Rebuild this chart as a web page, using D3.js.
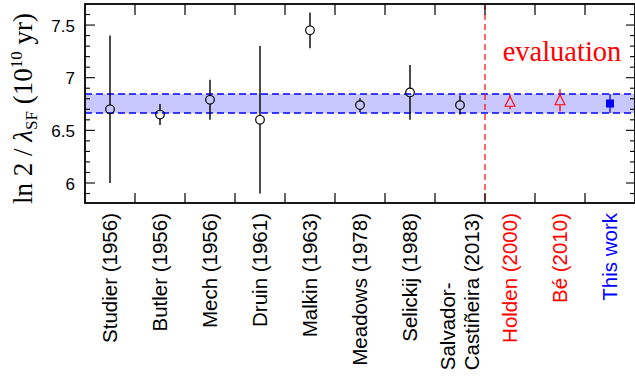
<!DOCTYPE html>
<html>
<head>
<meta charset="utf-8">
<script src="https://cdn.jsdelivr.net/npm/d3@7"></script>
<style>
html,body{margin:0;padding:0;background:#fff;}
svg{display:block;}
</style>
</head>
<body>
<script>
const labels = ["Studier (1956)","Butler (1956)","Mech (1956)","Druin (1961)","Malkin (1963)","Meadows (1978)","Selickij (1988)","Salvador-|Castiñeira (2013)","Holden (2000)","Bé (2010)","This work"];
const values = [6.70,6.65,6.79,6.60,7.45,6.74,6.86,6.74,6.77,6.785,6.755];
const errors = [0.70,0.10,0.19,0.70,0.17,0.065,0.26,0.09,0.07,0.105,0.09];
const markers = ["circle","circle","circle","circle","circle","circle","circle","circle","triangle","triangle","square"];
const groups = ["exp","exp","exp","exp","exp","exp","exp","exp","eval","eval","this"];
const bandCenter = 6.755, bandHalf = 0.09;
const yTicks = [6, 6.5, 7, 7.5];
const yTickLabels = ["6","6.5","7","7.5"];

const colors = {exp:"#000000", eval:"#ff0000", this:"#0000ff"};
const W = 635, H = 379;
const L = 85, R = 635, T = 4, B = 203;

const svg = d3.select("body").append("svg").attr("width", W).attr("height", H);
const x = d3.scaleLinear().domain([-0.5, labels.length - 0.5]).range([L, R]);
const y = d3.scaleLinear().domain([5.81, 7.70]).range([B, T]);

// band
svg.append("rect").attr("x", L).attr("width", R - L)
  .attr("y", y(bandCenter + bandHalf)).attr("height", y(bandCenter - bandHalf) - y(bandCenter + bandHalf))
  .attr("fill", "#c8c8ff");
[bandCenter + bandHalf, bandCenter - bandHalf].forEach(v => {
  svg.append("line").attr("x1", L).attr("x2", R).attr("y1", y(v)).attr("y2", y(v))
    .attr("stroke", "#0000ff").attr("stroke-width", 1.3).attr("stroke-dasharray", "7,4");
});

// red dashed separator
svg.append("line").attr("x1", x(7.5)).attr("x2", x(7.5)).attr("y1", T).attr("y2", B)
  .attr("stroke", "#ff0000").attr("stroke-width", 1.2).attr("stroke-dasharray", "6,4");

// frame
svg.append("rect").attr("x", L).attr("y", T).attr("width", R - L).attr("height", B - T)
  .attr("fill", "none").attr("stroke", "#000").attr("stroke-width", 1.8);

// x ticks (category boundaries) top and bottom
const xb = d3.range(0.5, labels.length - 0.5, 1);
xb.forEach(b => {
  svg.append("line").attr("x1", x(b)).attr("x2", x(b)).attr("y1", T).attr("y2", T + 11).attr("stroke", "#000").attr("stroke-width", 1.2);
  svg.append("line").attr("x1", x(b)).attr("x2", x(b)).attr("y1", B).attr("y2", B - 10).attr("stroke", "#000").attr("stroke-width", 1.2);
});

// y axis ticks left and right
const yAxisL = d3.axisLeft(y).tickValues(yTicks).tickSize(0).tickFormat((d, i) => yTickLabels[i]);
const gL = svg.append("g").attr("transform", `translate(${L},0)`).call(yAxisL);
gL.select(".domain").remove();
gL.selectAll("text").attr("x", -10).attr("dy", "0.36em")
  .style("font-family", "'Liberation Sans', Arial, sans-serif").style("font-size", "17px").attr("fill", "#000");
const minor = d3.range(5.9, 7.7, 0.1).map(v => Math.round(v * 10) / 10);
minor.forEach(v => {
  const major = Math.abs(v * 2 - Math.round(v * 2)) < 1e-6;
  svg.append("line").attr("x1", L).attr("x2", L + (major ? 10 : 5)).attr("y1", y(v)).attr("y2", y(v)).attr("stroke", "#000").attr("stroke-width", 1.1);
  svg.append("line").attr("x1", R).attr("x2", R - (major ? 9 : 5)).attr("y1", y(v)).attr("y2", y(v)).attr("stroke", "#000").attr("stroke-width", 1.1);
});

// data
const ms = {circle: 4.3, triangle: 5.5, square: 4};
values.forEach((v, i) => {
  const c = colors[groups[i]];
  const cx = x(i), cy = y(v);
  const m = markers[i];
  const gap = m === "square" ? 0 : (m === "triangle" ? 4.5 : ms.circle);
  const top = y(v + errors[i]), bot = y(v - errors[i]);
  const sw = groups[i] === "exp" ? 1.4 : 1.3;
  if (cy - gap > top) svg.append("line").attr("x1", cx).attr("x2", cx).attr("y1", top).attr("y2", cy - gap).attr("stroke", c).attr("stroke-width", sw);
  if (cy + gap < bot) svg.append("line").attr("x1", cx).attr("x2", cx).attr("y1", cy + gap).attr("y2", bot).attr("stroke", c).attr("stroke-width", sw);
  if (m === "circle") {
    svg.append("circle").attr("cx", cx).attr("cy", cy).attr("r", ms.circle).attr("fill", "none").attr("stroke", c).attr("stroke-width", 1.2);
  } else if (m === "triangle") {
    const s = ms.triangle;
    svg.append("path").attr("d", `M${cx},${cy - s} L${cx + s * 0.9},${cy + s * 0.8} L${cx - s * 0.9},${cy + s * 0.8} Z`)
      .attr("fill", "none").attr("stroke", c).attr("stroke-width", 1.1);
  } else {
    svg.append("rect").attr("x", cx - ms.square).attr("y", cy - ms.square).attr("width", 2 * ms.square).attr("height", 2 * ms.square).attr("fill", c);
  }
});

// x labels
const labFont = "'Liberation Sans', Arial, sans-serif";
labels.forEach((lab, i) => {
  const c = colors[groups[i]];
  const parts = lab.split("|");
  if (parts.length === 1) {
    svg.append("text").attr("transform", `translate(${x(i) + 7},213) rotate(-90)`)
      .attr("text-anchor", "end").attr("fill", c)
      .style("font-family", labFont).style("font-size", "20.5px").text(lab);
  } else {
    const t2 = svg.append("text").attr("transform", `translate(${x(i) + 19},213) rotate(-90)`)
      .attr("text-anchor", "end").attr("fill", c)
      .style("font-family", labFont).style("font-size", "20.5px").text(parts[1]);
    const len = t2.node().getComputedTextLength();
    svg.append("text").attr("transform", `translate(${x(i) - 5},${213 + len}) rotate(-90)`)
      .attr("text-anchor", "start").attr("fill", c)
      .style("font-family", labFont).style("font-size", "20.5px").text(parts[0]);
  }
});

// evaluation text
svg.append("text").attr("x", 562).attr("y", 61).attr("text-anchor", "middle")
  .attr("fill", "#ff0000").style("font-family", "'Liberation Serif', 'Times New Roman', serif").style("font-size", "28.5px")
  .text("evaluation");

// y title
const yt = svg.append("text").attr("transform", `translate(32,${(T + B) / 2 + 5}) rotate(-90)`)
  .attr("text-anchor", "middle").style("font-family", "'Liberation Serif', 'Times New Roman', serif").style("font-size", "27px").attr("fill", "#000");
yt.append("tspan").text("ln 2 / ");
yt.append("tspan").style("font-style", "italic").text("λ");
yt.append("tspan").attr("dy", 5).style("font-size", "17px").text("SF");
yt.append("tspan").attr("dy", -5).text(" (10");
yt.append("tspan").attr("dy", -10).style("font-size", "17px").text("10");
yt.append("tspan").attr("dy", 10).text(" yr)");
</script>
</body>
</html>
